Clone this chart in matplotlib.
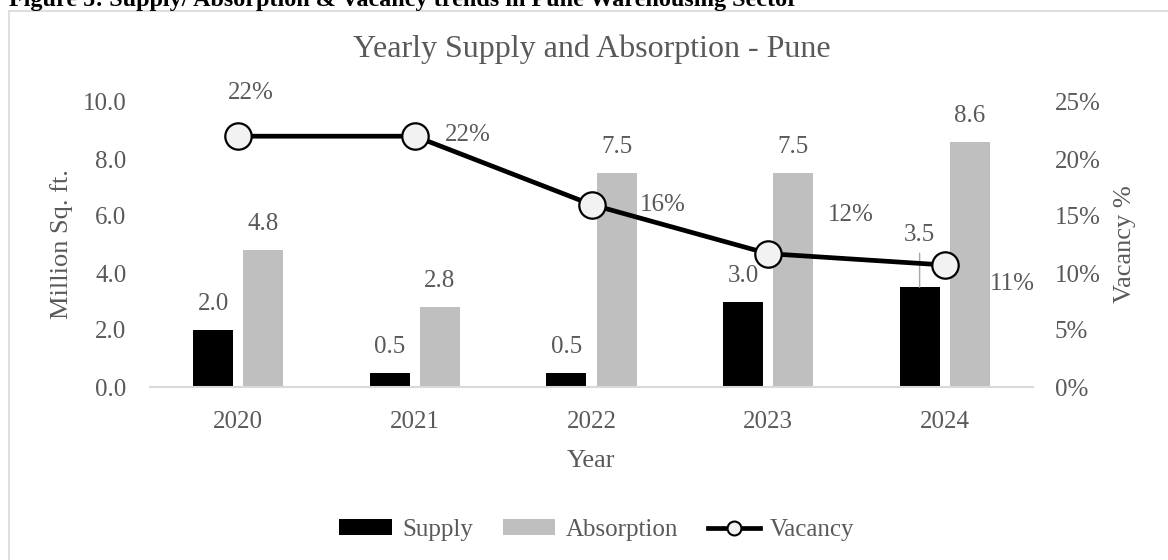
import matplotlib
matplotlib.use("Agg")
import matplotlib.pyplot as plt
from matplotlib.patches import Patch, Rectangle
from matplotlib.lines import Line2D
from matplotlib.ticker import FuncFormatter
import numpy as np

# ---- data ----
years = ["2020", "2021", "2022", "2023", "2024"]
supply = [2.0, 0.5, 0.5, 3.0, 3.5]
absorption = [4.8, 2.8, 7.5, 7.5, 8.6]
vacancy = [0.22, 0.22, 0.16, 0.117, 0.107]
vacancy_labels = ["22%", "22%", "16%", "12%", "11%"]

# ---- style / layout ----
W, H, DPI = 1168, 560, 100
PX = 72.0 / DPI  # points per pixel
FONT = "Liberation Serif"
GREY_TXT = "#595959"
FS = 18

plt.rcParams["font.family"] = [FONT, "DejaVu Serif"]

fig = plt.figure(figsize=(W / DPI, H / DPI), dpi=DPI)
fig.patch.set_facecolor("white")

# outer chart border (only top & left visible)
fig.patches.append(Rectangle((9 / W, -0.2), 1.5, 1.2 - 10.5 / H,
                             transform=fig.transFigure, fill=False,
                             edgecolor="#d9d9d9", linewidth=1.2, zorder=0))

# caption (partially cut at top)
fig.text(9 / W, 1 - 6 / H, "Figure 5: Supply/ Absorption & Vacancy trends in Pune Warehousing Sector",
         fontsize=17.4, fontweight="bold", color="black", ha="left", va="baseline")

left, right, bottom, top = 150, 1033, 387, 102
ax = fig.add_axes([left / W, 1 - bottom / H, (right - left) / W, (bottom - top) / H])
ax2 = ax.twinx()

x = np.arange(len(years))
bw = 0.227
off = 0.142
ax.bar(x - off, supply, bw, color="#000000", zorder=2)
ax.bar(x + off, absorption, bw, color="#bfbfbf", zorder=2)

ax.set_xlim(-0.5, len(years) - 0.5)
ax.set_ylim(0, 10)
ax.set_yticks(np.arange(0, 10.01, 2))
ax.yaxis.set_major_formatter(FuncFormatter(lambda v, p: f"{v:.1f}"))
ax.set_xticks(x)
ax.set_xticklabels(years)
for s in ["top", "right", "left"]:
    ax.spines[s].set_visible(False)
ax.spines["bottom"].set_color("#d9d9d9")
ax.spines["bottom"].set_linewidth(1.5)
ax.tick_params(axis="both", length=0, labelsize=FS, labelcolor=GREY_TXT)
ax.tick_params(axis="y", pad=17)
ax.tick_params(axis="x", pad=17.5)
ax.set_ylabel("Million Sq. ft.", fontsize=19, color=GREY_TXT, labelpad=7)
ax.set_xlabel("Year", fontsize=19, color=GREY_TXT, labelpad=12)

# bar value labels
supply_offsets = [26, 26, 26, 26, 52]  # px above bar top
for i, v in enumerate(supply):
    kw = {}
    if supply_offsets[i] > 30:
        kw["arrowprops"] = dict(arrowstyle="-", color="#a6a6a6", lw=1.0, shrinkA=3, shrinkB=0)
    ax.annotate(f"{v:.1f}", (x[i] - off, v), xytext=(0, supply_offsets[i] * PX),
                textcoords="offset points", ha="center", va="center",
                fontsize=FS, color=GREY_TXT, **kw)
for i, v in enumerate(absorption):
    ax.annotate(f"{v:.1f}", (x[i] + off, v), xytext=(0, 26 * PX),
                textcoords="offset points", ha="center", va="center",
                fontsize=FS, color=GREY_TXT)

# vacancy line on secondary axis
ax2.plot(x, vacancy, color="black", lw=3.4, marker="o", ms=19,
         mfc="#f2f2f2", mec="black", mew=1.6, zorder=5)
ax2.set_ylim(0, 0.25)
ax2.set_yticks(np.arange(0, 0.2501, 0.05))
ax2.yaxis.set_major_formatter(FuncFormatter(lambda v, p: f"{v * 100:.0f}%"))
for s in ["top", "right", "left", "bottom"]:
    ax2.spines[s].set_visible(False)
ax2.tick_params(axis="y", length=0, labelsize=FS, labelcolor=GREY_TXT, pad=15.5)
ax2.set_ylabel("Vacancy %", fontsize=19, color=GREY_TXT, labelpad=10)

vac_offsets = [(13, -43), (53, -1), (71, 0), (83, -39), (68, 19)]  # px (right, down)
for i, lab in enumerate(vacancy_labels):
    dx, dy = vac_offsets[i]
    ax2.annotate(lab, (x[i], vacancy[i]), xytext=(dx * PX, -dy * PX),
                 textcoords="offset points", ha="center", va="center",
                 fontsize=FS, color=GREY_TXT)

# title
fig.text((left + right) / 2 / W, 1 - 49 / H, "Yearly Supply and Absorption - Pune",
         fontsize=23, color=GREY_TXT, ha="center", va="center")

# legend
handles = [Patch(facecolor="#000000", edgecolor="none"),
           Patch(facecolor="#bfbfbf", edgecolor="none"),
           Line2D([], [], color="black", lw=3.4, marker="o", ms=10,
                  mfc="#f2f2f2", mec="black", mew=1.5)]
leg = fig.legend(handles, ["Supply", "Absorption", "Vacancy"], ncol=3,
                 loc="center", bbox_to_anchor=(597 / W, 1 - 530 / H),
                 frameon=False, fontsize=FS, handlelength=2.1, handleheight=0.6,
                 handletextpad=0.4, columnspacing=1.2)
for t in leg.get_texts():
    t.set_color(GREY_TXT)

fig.savefig("out.png", dpi=DPI, facecolor="white")
